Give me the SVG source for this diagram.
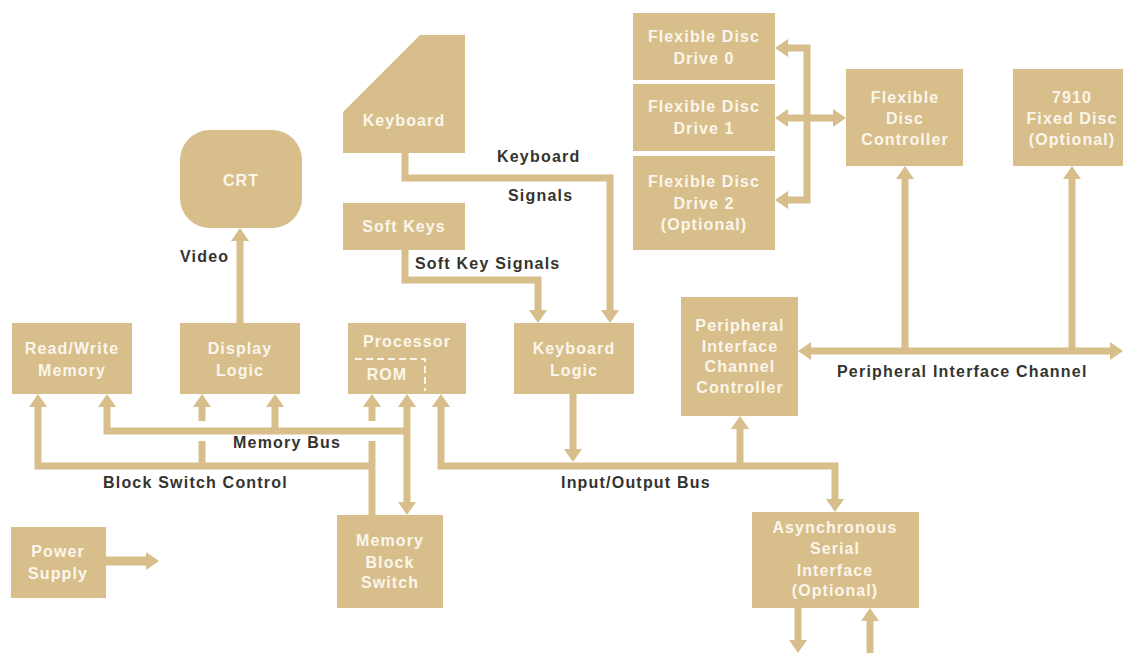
<svg xmlns="http://www.w3.org/2000/svg" width="1123" height="653" viewBox="0 0 1123 653">
<defs>
<style>
.box{fill:#d8be8a}
.nt{font-family:"Liberation Sans",Arial,sans-serif;font-weight:bold;font-size:16px;fill:#fbf6ec;text-anchor:middle;letter-spacing:1.1px}
.lb{font-family:"Liberation Sans",Arial,sans-serif;font-weight:bold;font-size:16px;fill:#34342f;letter-spacing:1.2px}
.ln{fill:none;stroke:#d8be8a;stroke-width:7;stroke-linejoin:miter}
.ar{marker-end:url(#ah)}
.as{marker-start:url(#ah)}
.dash{fill:none;stroke:#fbf6ec;stroke-width:2;stroke-dasharray:7 4}
</style>
<marker id="ah" viewBox="0 -9 13 18" refX="0" refY="0" markerWidth="13" markerHeight="18" markerUnits="userSpaceOnUse" orient="auto-start-reverse">
<path d="M0,-9 L13,0 L0,9 z" fill="#d8be8a"/>
</marker>
</defs>
<rect width="1123" height="653" fill="#ffffff"/>

<g id="connectors">
<path class="ln ar" d="M240,323 V241"/>
<path class="ln ar" d="M405,153 V178 H610 V310"/>
<path class="ln ar" d="M405,250 V280 H538 V310"/>
<path class="ln ar" d="M573,394 V449"/>
<path class="ln ar as" d="M441,407 V466 H835 V499"/>
<path class="ln ar" d="M740,466 V429"/>
<path class="ln as" d="M107,407 V431 H407"/>
<path class="ln ar" d="M275,431 V407"/>
<path class="ln ar as" d="M407,407 V502"/>
<path class="ln as" d="M38,407 V466 H372"/>
<path class="ln" d="M372,515 V441"/>
<path class="ln ar" d="M372,421 V407"/>
<path class="ln" d="M202,466 V441"/>
<path class="ln ar" d="M202,421 V407"/>
<path class="ln ar as" d="M788,48 H807 V200 H788"/>
<path class="ln ar as" d="M788,118 H833"/>
<path class="ln ar as" d="M811,351 H1110"/>
<path class="ln ar" d="M905,351 V179"/>
<path class="ln ar" d="M1072,351 V179"/>
<path class="ln ar" style="stroke-width:9" d="M106,561 H146"/>
<path class="ln ar" d="M798,608 V640"/>
<path class="ln ar" d="M870,653 V621"/>
</g>

<g id="labels">
<text class="lb" x="180" y="262">Video</text>
<text class="lb" x="497" y="162">Keyboard</text>
<text class="lb" x="508" y="201">Signals</text>
<text class="lb" x="415" y="269">Soft Key Signals</text>
<text class="lb" x="233" y="448">Memory Bus</text>
<text class="lb" x="103" y="488">Block Switch Control</text>
<text class="lb" x="561" y="488">Input/Output Bus</text>
<text class="lb" x="837" y="377">Peripheral Interface Channel</text>
</g>

<g id="crt"><rect class="box" x="180" y="130" width="122" height="98" rx="30"/><text class="nt" x="241" y="186">CRT</text></g>
<g id="keyboard"><polygon class="box" points="343,112 420,35 465,35 465,153 343,153"/><text class="nt" x="404" y="126">Keyboard</text></g>
<g id="softkeys"><rect class="box" x="343" y="203" width="122" height="47"/><text class="nt" x="404" y="232">Soft Keys</text></g>
<g id="rwmemory"><rect class="box" x="12" y="323" width="120" height="71"/><text class="nt" x="72" y="354">Read/Write</text><text class="nt" x="72" y="376">Memory</text></g>
<g id="displaylogic"><rect class="box" x="180" y="323" width="120" height="71"/><text class="nt" x="240" y="354">Display</text><text class="nt" x="240" y="376">Logic</text></g>
<g id="processor"><rect class="box" x="348" y="323" width="118" height="71"/><text class="nt" x="407" y="347">Processor</text><path class="dash" d="M355,359 H425 V391"/><text class="nt" x="387" y="380">ROM</text></g>
<g id="keyboardlogic"><rect class="box" x="514" y="323" width="120" height="71"/><text class="nt" x="574" y="354">Keyboard</text><text class="nt" x="574" y="376">Logic</text></g>
<g id="picc"><rect class="box" x="681" y="297" width="117" height="119"/><text class="nt" x="740" y="331">Peripheral</text><text class="nt" x="740" y="352">Interface</text><text class="nt" x="740" y="372">Channel</text><text class="nt" x="740" y="393">Controller</text></g>
<g id="fdd0"><rect class="box" x="633" y="13" width="142" height="67"/><text class="nt" x="704" y="42">Flexible Disc</text><text class="nt" x="704" y="64">Drive 0</text></g>
<g id="fdd1"><rect class="box" x="633" y="84" width="142" height="67"/><text class="nt" x="704" y="112">Flexible Disc</text><text class="nt" x="704" y="134">Drive 1</text></g>
<g id="fdd2"><rect class="box" x="633" y="156" width="142" height="94"/><text class="nt" x="704" y="187">Flexible Disc</text><text class="nt" x="704" y="209">Drive 2</text><text class="nt" x="704" y="230">(Optional)</text></g>
<g id="fdc"><rect class="box" x="846" y="69" width="117" height="97"/><text class="nt" x="905" y="103">Flexible</text><text class="nt" x="905" y="124">Disc</text><text class="nt" x="905" y="145">Controller</text></g>
<g id="fixeddisc"><rect class="box" x="1013" y="69" width="110" height="97"/><text class="nt" x="1072" y="103">7910</text><text class="nt" x="1072" y="124">Fixed Disc</text><text class="nt" x="1072" y="145">(Optional)</text></g>
<g id="mbs"><rect class="box" x="337" y="515" width="106" height="93"/><text class="nt" x="390" y="546">Memory</text><text class="nt" x="390" y="568">Block</text><text class="nt" x="390" y="588">Switch</text></g>
<g id="power"><rect class="box" x="11" y="527" width="95" height="71"/><text class="nt" x="58" y="557">Power</text><text class="nt" x="58" y="579">Supply</text></g>
<g id="asi"><rect class="box" x="752" y="512" width="167" height="96"/><text class="nt" x="835" y="533">Asynchronous</text><text class="nt" x="835" y="554">Serial</text><text class="nt" x="835" y="576">Interface</text><text class="nt" x="835" y="596">(Optional)</text></g>
</svg>
